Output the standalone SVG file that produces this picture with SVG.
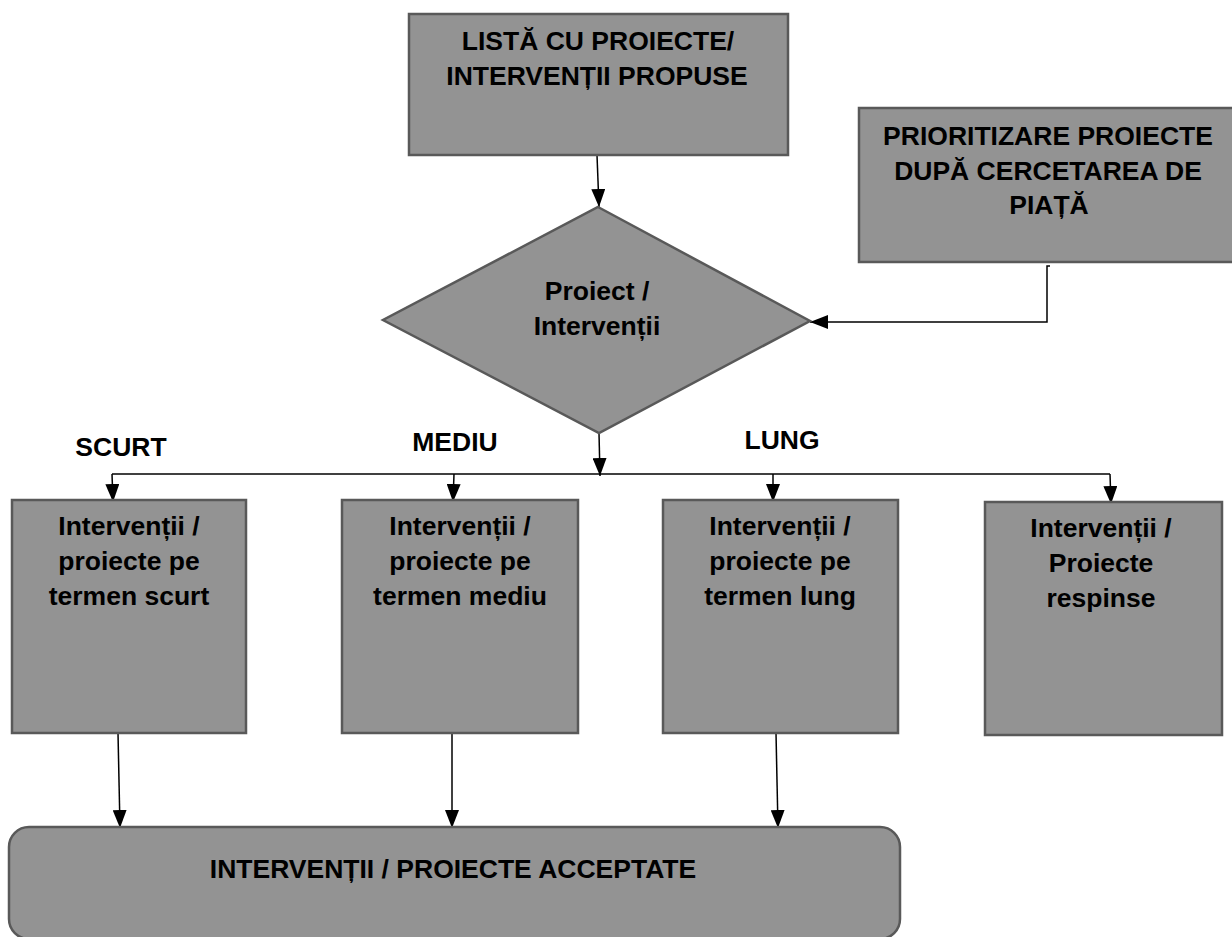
<svg xmlns="http://www.w3.org/2000/svg" width="1232" height="937" viewBox="0 0 1232 937">
<style>
.box{fill:#939393;stroke:#595959;stroke-width:2.5}
.t{font-family:"Liberation Sans",Arial,sans-serif;font-weight:bold;font-size:26.5px;fill:#000;text-anchor:middle}
.c{fill:none;stroke:#000;stroke-width:1.5}
</style>
<defs>
<marker id="ah" markerWidth="18" markerHeight="14" refX="18" refY="7" orient="auto" markerUnits="userSpaceOnUse">
<path d="M0,0 L18,7 L0,14 Z" fill="#000"/>
</marker>
</defs>
<rect width="1232" height="937" fill="#fff"/>
<g id="connectors">
<path class="c" d="M597,155 L599,207" marker-end="url(#ah)"/>
<path class="c" d="M1050,266 L1047,266 L1047,322 L810,322" marker-end="url(#ah)"/>
<path class="c" d="M599,433 L600,476" marker-end="url(#ah)"/>
<path class="c" d="M112,474 L1110,474"/>
<path class="c" d="M112,474 L113,502" marker-end="url(#ah)"/>
<path class="c" d="M454,474 L453,502" marker-end="url(#ah)"/>
<path class="c" d="M773,474 L773,502" marker-end="url(#ah)"/>
<path class="c" d="M1110,474 L1111,504" marker-end="url(#ah)"/>
<path class="c" d="M118,733 L120,828" marker-end="url(#ah)"/>
<path class="c" d="M452,733 L452,828" marker-end="url(#ah)"/>
<path class="c" d="M776,733 L778,828" marker-end="url(#ah)"/>
</g>
<g id="labels">
<text class="t" x="121" y="456">SCURT</text>
<text class="t" x="455" y="451">MEDIU</text>
<text class="t" x="782" y="449">LUNG</text>
</g>
<g id="lista">
<rect class="box" x="409" y="14" width="379" height="141"/>
<text class="t" x="598" y="50">LISTĂ CU PROIECTE/</text>
<text class="t" x="597" y="85">INTERVENȚII PROPUSE</text>
</g>
<g id="prioritizare">
<rect class="box" x="859" y="108" width="375" height="154"/>
<text class="t" x="1048" y="145">PRIORITIZARE PROIECTE</text>
<text class="t" x="1048" y="180">DUPĂ CERCETAREA DE</text>
<text class="t" x="1049" y="214">PIAȚĂ</text>
</g>
<g id="decizie">
<polygon class="box" points="598,207 810,321 599,433 383,320"/>
<text class="t" x="597" y="300">Proiect /</text>
<text class="t" x="597" y="335">Intervenții</text>
</g>
<g id="scurt">
<rect class="box" x="12" y="500" width="234" height="233"/>
<text class="t" x="129" y="535">Intervenții /</text>
<text class="t" x="129" y="570">proiecte pe</text>
<text class="t" x="129" y="605">termen scurt</text>
</g>
<g id="mediu">
<rect class="box" x="342" y="500" width="236" height="233"/>
<text class="t" x="460" y="535">Intervenții /</text>
<text class="t" x="460" y="570">proiecte pe</text>
<text class="t" x="460" y="605">termen mediu</text>
</g>
<g id="lung">
<rect class="box" x="663" y="500" width="235" height="233"/>
<text class="t" x="780" y="535">Intervenții /</text>
<text class="t" x="780" y="570">proiecte pe</text>
<text class="t" x="780" y="605">termen lung</text>
</g>
<g id="respinse">
<rect class="box" x="985" y="502" width="237" height="233"/>
<text class="t" x="1101" y="537">Intervenții /</text>
<text class="t" x="1101" y="572">Proiecte</text>
<text class="t" x="1101" y="607">respinse</text>
</g>
<g id="acceptate">
<rect class="box" x="9" y="827" width="891" height="112" rx="20" ry="20"/>
<text class="t" x="453" y="878">INTERVENȚII / PROIECTE ACCEPTATE</text>
</g>
</svg>
